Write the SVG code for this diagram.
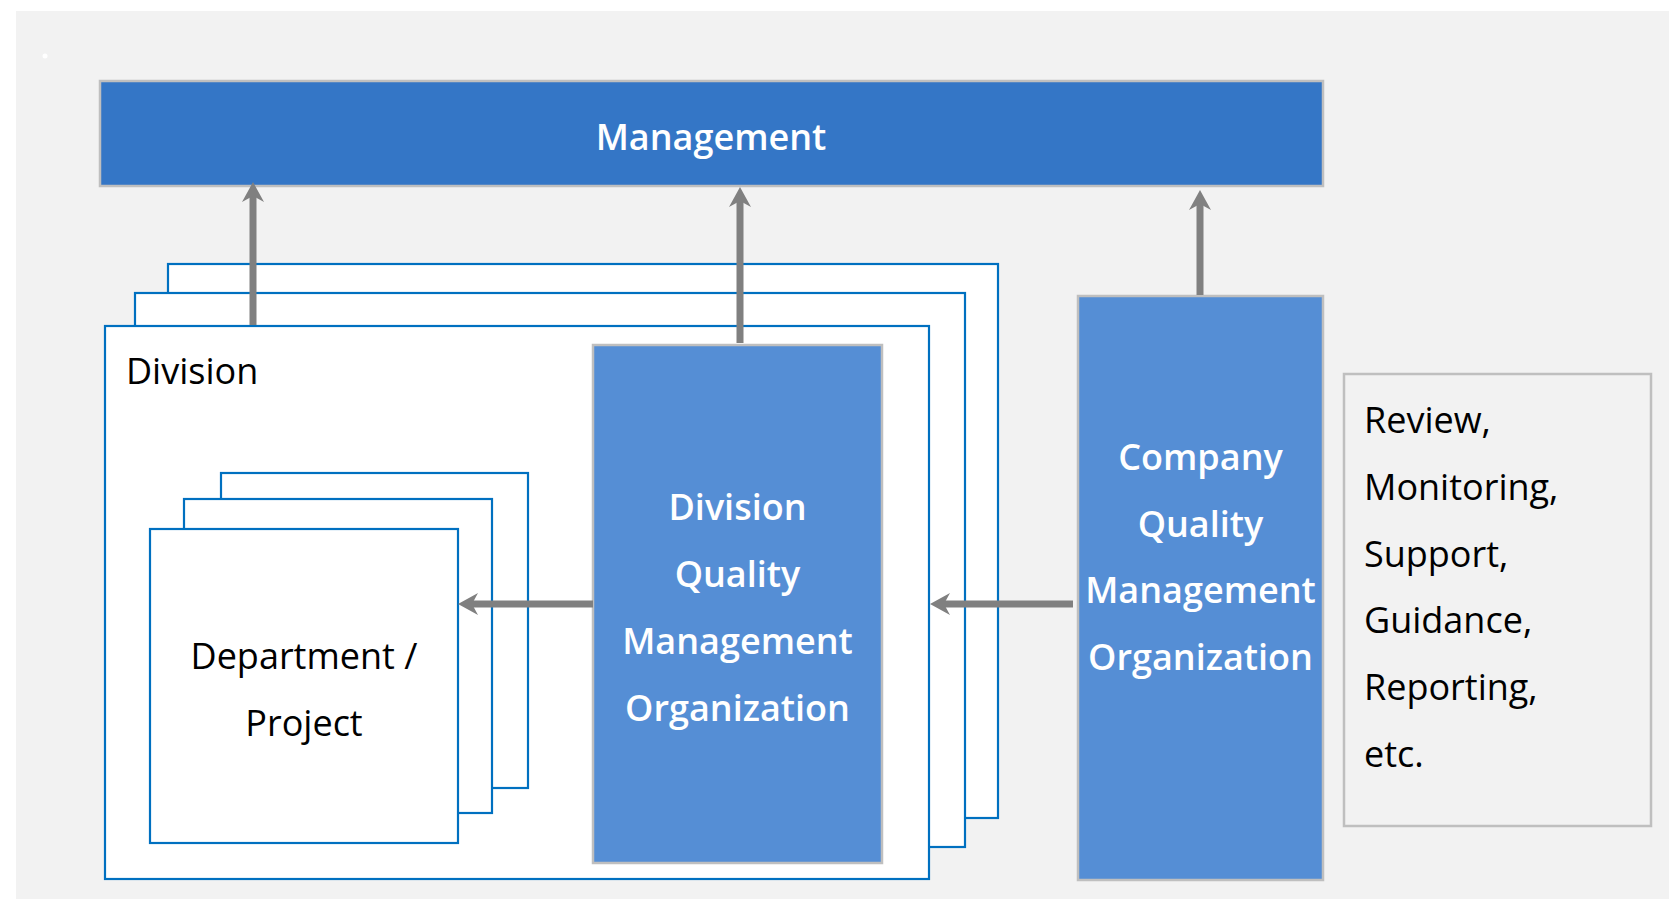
<svg xmlns="http://www.w3.org/2000/svg" width="1669" height="899" viewBox="0 0 1669 899">
<defs>
<style>
.t{font-family:"Open Sans","Noto Sans","Liberation Sans",sans-serif;font-size:36px}
.w{fill:#FFFFFF;font-weight:600}
.k{fill:#000000}
.c{text-anchor:middle}
.frame{fill:#FFFFFF;stroke:#0070C0;stroke-width:2.2}
.blue{fill:#558ED5;stroke:#BFBFBF;stroke-width:2.5}
.conn{stroke:#808080;stroke-width:7;fill:none;marker-end:url(#ah)}
</style>
<marker id="ah" viewBox="0 0 20 22" markerWidth="20" markerHeight="22" refX="8" refY="11" orient="auto" markerUnits="userSpaceOnUse">
<path d="M0,0 L20,11 L0,22 L6,11 Z" fill="#808080"/>
</marker>
</defs>
<rect x="16" y="11" width="1653" height="888" fill="#F2F2F2"/>
<circle cx="45" cy="56" r="2.5" fill="#FFFFFF"/>

<g id="management">
<rect x="100" y="81" width="1223" height="105" fill="#3476C6" stroke="#BFBFBF" stroke-width="2.5"/>
<text class="t w c" x="711" y="150">Management</text>
</g>

<g id="division">
<rect class="frame" x="168" y="264" width="830" height="554"/>
<rect class="frame" x="135" y="293" width="830" height="554"/>
<rect class="frame" x="105" y="326" width="824" height="553"/>
<text class="t k" x="126" y="384">Division</text>
</g>

<g id="department">
<rect class="frame" x="221" y="473" width="307" height="315"/>
<rect class="frame" x="184" y="499" width="308" height="314"/>
<rect class="frame" x="150" y="529" width="308" height="314"/>
<text class="t k c" x="304" y="669">Department /</text>
<text class="t k c" x="304" y="736">Project</text>
</g>

<g id="division-qmo">
<rect class="blue" x="593" y="345" width="289" height="518"/>
<text class="t w c" x="737.5" y="520">Division</text>
<text class="t w c" x="737.5" y="587">Quality</text>
<text class="t w c" x="737.5" y="654">Management</text>
<text class="t w c" x="737.5" y="721">Organization</text>
</g>

<g id="company-qmo">
<rect class="blue" x="1078" y="296" width="245" height="584"/>
<text class="t w c" x="1200.5" y="470">Company</text>
<text class="t w c" x="1200.5" y="537">Quality</text>
<text class="t w c" x="1200.5" y="603">Management</text>
<text class="t w c" x="1200.5" y="670">Organization</text>
</g>

<g id="activities">
<rect x="1344" y="374" width="307" height="452" fill="#F2F2F2" stroke="#BFBFBF" stroke-width="2.5"/>
<text class="t k" x="1364" y="433">Review,</text>
<text class="t k" x="1364" y="500">Monitoring,</text>
<text class="t k" x="1364" y="567">Support,</text>
<text class="t k" x="1364" y="633">Guidance,</text>
<text class="t k" x="1364" y="700">Reporting,</text>
<text class="t k" x="1364" y="767">etc.</text>
</g>

<g id="connectors">
<line class="conn" x1="253" y1="325" x2="253" y2="194"/>
<line class="conn" x1="740" y1="343" x2="740" y2="199"/>
<line class="conn" x1="1200" y1="295" x2="1200" y2="202"/>
<line class="conn" x1="593" y1="604" x2="470" y2="604"/>
<line class="conn" x1="1073" y1="604" x2="942" y2="604"/>
</g>
</svg>
